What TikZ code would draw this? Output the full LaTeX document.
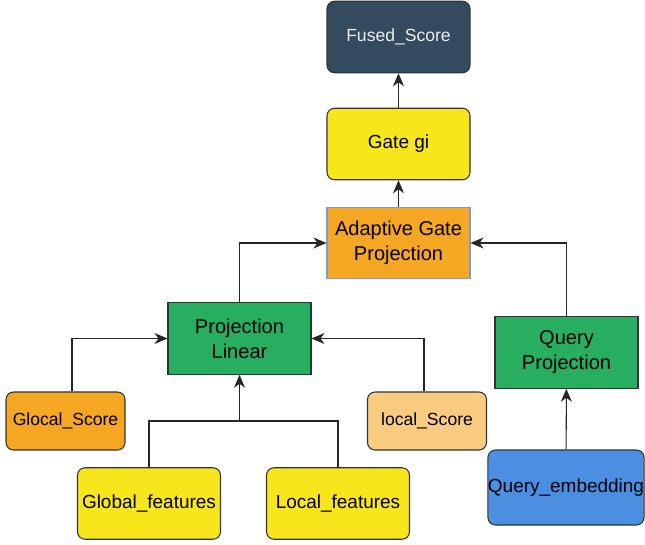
\documentclass[tikz,border=0pt]{standalone}
\usepackage{fontspec}
\setmainfont{Liberation Sans}
\usetikzlibrary{arrows.meta}
\definecolor{slate}{HTML}{344A5E}
\definecolor{gateyellow}{HTML}{F8E61C}
\definecolor{gateorange}{HTML}{F5A623}
\definecolor{lightorange}{HTML}{F9CB80}
\definecolor{projgreen}{HTML}{27AE60}
\definecolor{embblue}{HTML}{4A8FE2}
\definecolor{edgeblue}{HTML}{7E9CC4}
\begin{document}
\begin{tikzpicture}[x=0.02cm,y=-0.02cm,
  box/.style={draw=black!80,line width=0.6pt,rounded corners=0.15cm,align=center,inner sep=0pt,minimum width=2.86cm,minimum height=1.43cm,font=\fontsize{10.8}{13}\selectfont},
  scorebox/.style={box,minimum width=2.38cm,minimum height=1.16cm,font=\fontsize{10}{12}\selectfont},
  projbox/.style={box,rounded corners=0pt,font=\fontsize{11.4}{14.2}\selectfont},
  link/.style={draw=black!85,line width=0.6pt},
  arr/.style={link,-{Stealth[length=2.6mm,width=2.2mm,inset=0.8mm]}}]
  \useasboundingbox (0,0) rectangle (645,544);
  \node[box,fill=slate,text=black!8,font=\fontsize{10}{12}\selectfont] (fused) at (398.5,37) {Fused\_Score};
  \node[box,fill=gateyellow] (gate) at (398.5,144) {Gate gi};
  \node[projbox,fill=gateorange,draw=edgeblue] (adapt) at (398.5,243) {Adaptive Gate\\Projection};
  \node[projbox,fill=projgreen] (projlin) at (239.5,338.5) {Projection\\Linear};
  \node[projbox,fill=projgreen] (queryproj) at (566.5,352.5) {Query\\Projection};
  \node[scorebox,fill=gateorange] (glocal) at (65.5,421) {Glocal\_Score};
  \node[scorebox,fill=lightorange] (lscore) at (427,421) {local\_Score};
  \node[box,fill=gateyellow] (gfeat) at (149,503.5) {Global\_features};
  \node[box,fill=gateyellow] (lfeat) at (338,503.5) {Local\_features};
  \node[box,fill=embblue,minimum width=3.12cm,minimum height=1.5cm] (qemb) at (566,487.5) {Query\_embedding};
  \coordinate (fjoin) at (239.5,421);
  \draw[arr] (gate) -- (fused);
  \draw[arr] (adapt) -- (gate);
  \draw[arr] (projlin.north) |- (adapt.west);
  \draw[arr] (queryproj.north) |- (adapt.east);
  \draw[arr] ([xshift=0.13cm]glocal.north) |- (projlin.west);
  \draw[arr] ([xshift=-0.06cm]lscore.north) |- (projlin.east);
  \draw[link] (gfeat.north) |- (fjoin) -| (lfeat.north);
  \draw[arr] (fjoin) -- (projlin.south);
  \draw[arr] (qemb) -- (queryproj);
\end{tikzpicture}
\end{document}
